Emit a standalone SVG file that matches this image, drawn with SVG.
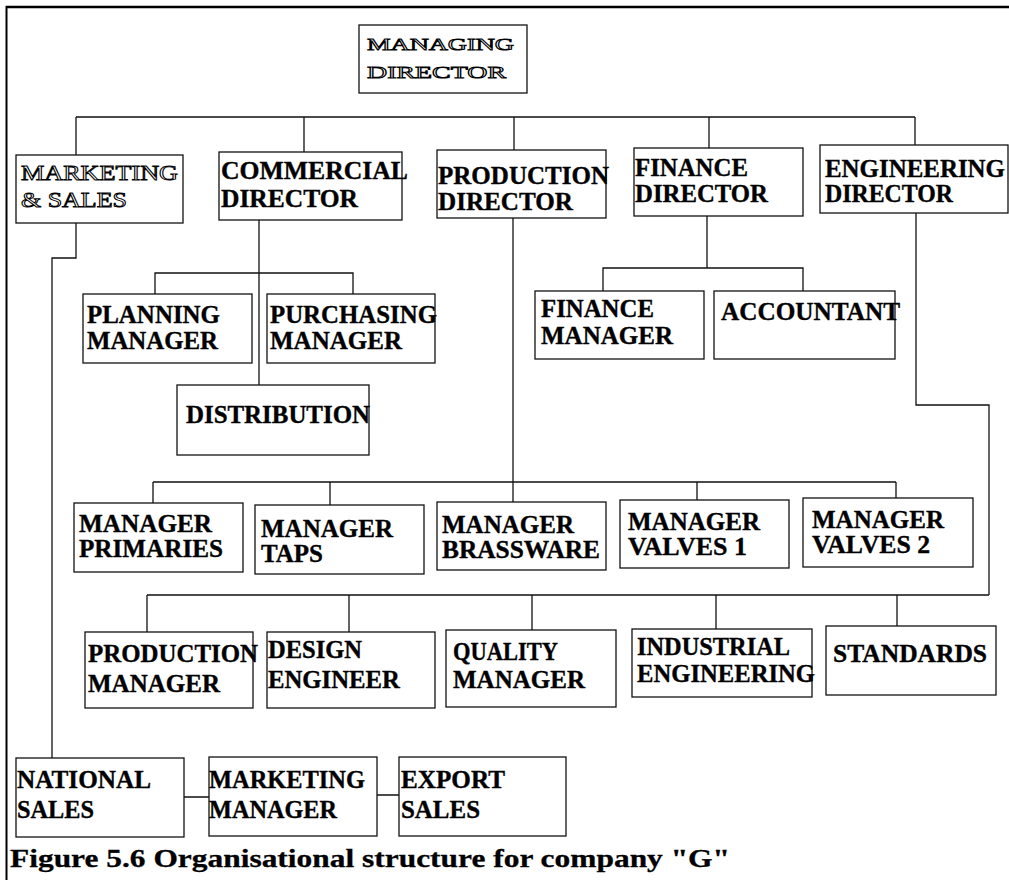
<svg xmlns="http://www.w3.org/2000/svg" width="1009" height="880" viewBox="0 0 1009 880">
  <style>
    .box { fill: #fff; stroke: #111; stroke-width: 1.3; }
    .lbl { font-family: "Liberation Serif", "Times New Roman", serif; font-weight: bold; font-size: 25px; fill: #000; stroke: #000; stroke-width: 0.35; }
    .outl { font-family: "Liberation Serif", "Times New Roman", serif; font-weight: normal; fill: #fff; stroke: #000; stroke-width: 0.9; }
    .wire { fill: none; stroke: #111; stroke-width: 1.3; }
    .frame { fill: none; stroke: #000; }
    .cap { font-family: "Liberation Serif", "Times New Roman", serif; font-weight: bold; font-size: 26px; fill: #000; stroke: #000; stroke-width: 0.3; }
  </style>
  <rect x="0" y="0" width="1009" height="880" fill="#fff"/>

  <!-- page frame: top rule and left rule -->
  <line class="frame" x1="6" y1="7" x2="1009" y2="7" stroke-width="2.5"/>
  <line class="frame" x1="6.5" y1="6" x2="6.5" y2="880" stroke-width="2"/>

  <!-- connectors -->
  <g id="connectors">
    <path class="wire" d="M76,117 H915 M76,117 V155 M304,117 V152 M514,117 V150 M709,117 V148 M915,117 V145"/>
    <path class="wire" d="M76,223 V258 H52 V758"/>
    <path class="wire" d="M259,220 V385 M155,294 V273 H353 V294"/>
    <path class="wire" d="M707,216 V268 M603,291 V268 H803 V291"/>
    <path class="wire" d="M513,218 V502"/>
    <path class="wire" d="M153,482 H896 M153,482 V503 M330,482 V505 M697,482 V500 M896,482 V498"/>
    <path class="wire" d="M916,213 V405 H989 V595"/>
    <path class="wire" d="M147,595 H989 M147,595 V632 M349,595 V632 M532,595 V630 M716,595 V629 M897,595 V626"/>
    <path class="wire" d="M184,797 H209 M377,795 H399"/>
  </g>

  <g id="managing-director">
    <rect class="box" x="359" y="25" width="168" height="68"/>
    <text class="outl" font-size="17" x="367" y="50" textLength="147" lengthAdjust="spacingAndGlyphs">MANAGING</text>
    <text class="outl" font-size="17" x="367" y="78" textLength="139" lengthAdjust="spacingAndGlyphs">DIRECTOR</text>
  </g>

  <g id="marketing-sales">
    <rect class="box" x="16" y="155" width="167" height="68"/>
    <text class="outl" font-size="20" x="21" y="180" textLength="157" lengthAdjust="spacingAndGlyphs">MARKETING</text>
    <text class="outl" font-size="20" x="21" y="207" textLength="106" lengthAdjust="spacingAndGlyphs">&amp; SALES</text>
  </g>

  <g id="commercial-director">
    <rect class="box" x="219" y="152" width="183" height="68"/>
    <text class="lbl" x="221" y="179" textLength="187" lengthAdjust="spacingAndGlyphs">COMMERCIAL</text>
    <text class="lbl" x="221" y="207" textLength="137" lengthAdjust="spacingAndGlyphs">DIRECTOR</text>
  </g>

  <g id="production-director">
    <rect class="box" x="437" y="150" width="169" height="68"/>
    <text class="lbl" x="438" y="184" textLength="171" lengthAdjust="spacingAndGlyphs">PRODUCTION</text>
    <text class="lbl" x="438" y="210" textLength="135" lengthAdjust="spacingAndGlyphs">DIRECTOR</text>
  </g>

  <g id="finance-director">
    <rect class="box" x="634" y="148" width="169" height="68"/>
    <text class="lbl" x="635" y="176" textLength="113" lengthAdjust="spacingAndGlyphs">FINANCE</text>
    <text class="lbl" x="635" y="202" textLength="133" lengthAdjust="spacingAndGlyphs">DIRECTOR</text>
  </g>

  <g id="engineering-director">
    <rect class="box" x="820" y="145" width="188" height="68"/>
    <text class="lbl" x="825" y="177" textLength="180" lengthAdjust="spacingAndGlyphs">ENGINEERING</text>
    <text class="lbl" x="825" y="202" textLength="128" lengthAdjust="spacingAndGlyphs">DIRECTOR</text>
  </g>

  <g id="planning-manager">
    <rect class="box" x="83" y="294" width="169" height="69"/>
    <text class="lbl" x="87" y="323" textLength="133" lengthAdjust="spacingAndGlyphs">PLANNING</text>
    <text class="lbl" x="87" y="349" textLength="131" lengthAdjust="spacingAndGlyphs">MANAGER</text>
  </g>

  <g id="purchasing-manager">
    <rect class="box" x="267" y="294" width="168" height="69"/>
    <text class="lbl" x="270" y="323" textLength="167" lengthAdjust="spacingAndGlyphs">PURCHASING</text>
    <text class="lbl" x="270" y="349" textLength="132" lengthAdjust="spacingAndGlyphs">MANAGER</text>
  </g>

  <g id="distribution">
    <rect class="box" x="177" y="385" width="192" height="70"/>
    <text class="lbl" x="186" y="423" textLength="184" lengthAdjust="spacingAndGlyphs">DISTRIBUTION</text>
  </g>

  <g id="finance-manager">
    <rect class="box" x="535" y="291" width="169" height="68"/>
    <text class="lbl" x="541" y="317" textLength="113" lengthAdjust="spacingAndGlyphs">FINANCE</text>
    <text class="lbl" x="541" y="344" textLength="132" lengthAdjust="spacingAndGlyphs">MANAGER</text>
  </g>

  <g id="accountant">
    <rect class="box" x="714" y="291" width="181" height="68"/>
    <text class="lbl" x="721" y="320" textLength="179" lengthAdjust="spacingAndGlyphs">ACCOUNTANT</text>
  </g>

  <g id="manager-primaries">
    <rect class="box" x="74" y="503" width="169" height="69"/>
    <text class="lbl" x="79" y="532" textLength="133" lengthAdjust="spacingAndGlyphs">MANAGER</text>
    <text class="lbl" x="79" y="557" textLength="144" lengthAdjust="spacingAndGlyphs">PRIMARIES</text>
  </g>

  <g id="manager-taps">
    <rect class="box" x="255" y="505" width="169" height="69"/>
    <text class="lbl" x="261" y="537" textLength="132" lengthAdjust="spacingAndGlyphs">MANAGER</text>
    <text class="lbl" x="261" y="562" textLength="62" lengthAdjust="spacingAndGlyphs">TAPS</text>
  </g>

  <g id="manager-brassware">
    <rect class="box" x="437" y="502" width="169" height="68"/>
    <text class="lbl" x="442" y="533" textLength="132" lengthAdjust="spacingAndGlyphs">MANAGER</text>
    <text class="lbl" x="442" y="558" textLength="158" lengthAdjust="spacingAndGlyphs">BRASSWARE</text>
  </g>

  <g id="manager-valves-1">
    <rect class="box" x="620" y="500" width="169" height="68"/>
    <text class="lbl" x="628" y="530" textLength="132" lengthAdjust="spacingAndGlyphs">MANAGER</text>
    <text class="lbl" x="628" y="555" textLength="119" lengthAdjust="spacingAndGlyphs">VALVES 1</text>
  </g>

  <g id="manager-valves-2">
    <rect class="box" x="803" y="498" width="170" height="69"/>
    <text class="lbl" x="812" y="528" textLength="132" lengthAdjust="spacingAndGlyphs">MANAGER</text>
    <text class="lbl" x="812" y="553" textLength="118" lengthAdjust="spacingAndGlyphs">VALVES 2</text>
  </g>

  <g id="production-manager">
    <rect class="box" x="85" y="632" width="168" height="76"/>
    <text class="lbl" x="88" y="662" textLength="170" lengthAdjust="spacingAndGlyphs">PRODUCTION</text>
    <text class="lbl" x="88" y="692" textLength="132" lengthAdjust="spacingAndGlyphs">MANAGER</text>
  </g>

  <g id="design-engineer">
    <rect class="box" x="267" y="632" width="168" height="76"/>
    <text class="lbl" x="268" y="658" textLength="94" lengthAdjust="spacingAndGlyphs">DESIGN</text>
    <text class="lbl" x="268" y="688" textLength="132" lengthAdjust="spacingAndGlyphs">ENGINEER</text>
  </g>

  <g id="quality-manager">
    <rect class="box" x="446" y="630" width="170" height="77"/>
    <text class="lbl" x="453" y="660" textLength="105" lengthAdjust="spacingAndGlyphs">QUALITY</text>
    <text class="lbl" x="453" y="688" textLength="132" lengthAdjust="spacingAndGlyphs">MANAGER</text>
  </g>

  <g id="industrial-engineering">
    <rect class="box" x="632" y="629" width="180" height="68"/>
    <text class="lbl" x="637" y="655" textLength="153" lengthAdjust="spacingAndGlyphs">INDUSTRIAL</text>
    <text class="lbl" x="637" y="682" textLength="178" lengthAdjust="spacingAndGlyphs">ENGINEERING</text>
  </g>

  <g id="standards">
    <rect class="box" x="826" y="626" width="170" height="69"/>
    <text class="lbl" x="833" y="662" textLength="154" lengthAdjust="spacingAndGlyphs">STANDARDS</text>
  </g>

  <g id="national-sales">
    <rect class="box" x="16" y="758" width="168" height="79"/>
    <text class="lbl" x="17" y="788" textLength="134" lengthAdjust="spacingAndGlyphs">NATIONAL</text>
    <text class="lbl" x="17" y="818" textLength="77" lengthAdjust="spacingAndGlyphs">SALES</text>
  </g>

  <g id="marketing-manager">
    <rect class="box" x="209" y="757" width="168" height="79"/>
    <text class="lbl" x="209" y="788" textLength="156" lengthAdjust="spacingAndGlyphs">MARKETING</text>
    <text class="lbl" x="209" y="818" textLength="128" lengthAdjust="spacingAndGlyphs">MANAGER</text>
  </g>

  <g id="export-sales">
    <rect class="box" x="399" y="757" width="167" height="79"/>
    <text class="lbl" x="401" y="788" textLength="104" lengthAdjust="spacingAndGlyphs">EXPORT</text>
    <text class="lbl" x="401" y="818" textLength="79" lengthAdjust="spacingAndGlyphs">SALES</text>
  </g>

  <text class="cap" x="10" y="867" textLength="720" lengthAdjust="spacingAndGlyphs">Figure 5.6 Organisational structure for company "G"</text>
</svg>
